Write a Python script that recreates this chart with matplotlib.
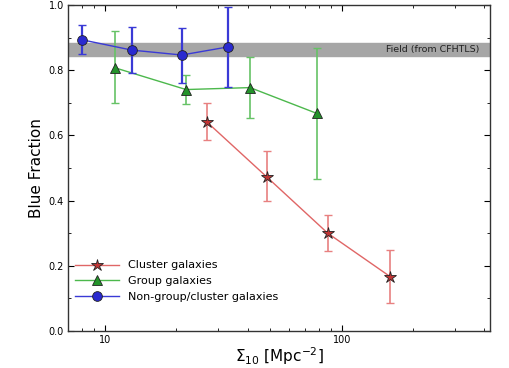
import numpy as np
import matplotlib
matplotlib.use('Agg')
from matplotlib import pyplot as plt
from matplotlib.ticker import FormatStrFormatter, NullFormatter

# cluster galaxies
cl_x = [26.9, 48.2, 87.3, 160.0]
cl_y = [0.642, 0.473, 0.300, 0.167]
cl_lo = [0.586, 0.398, 0.245, 0.085]
cl_hi = [0.700, 0.551, 0.355, 0.248]

# group galaxies
gr_x = [11.0, 22.0, 41.0, 78.3]
gr_y = [0.808, 0.741, 0.747, 0.668]
gr_lo = [0.701, 0.697, 0.655, 0.466]
gr_hi = [0.920, 0.785, 0.841, 0.869]

# non-group/cluster galaxies
ng_x = [7.97, 13.0, 21.1, 33.2]
ng_y = [0.894, 0.862, 0.847, 0.872]
ng_lo = [0.850, 0.792, 0.761, 0.749]
ng_hi = [0.938, 0.933, 0.931, 0.993]

field_lo, field_hi = 0.845, 0.884
field_label = 'Field (from CFHTLS)'


def errs(y, lo, hi):
    y = np.array(y)
    return [y - np.array(lo), np.array(hi) - y]


fig = plt.figure(figsize=(5.09, 3.68), dpi=100)
ax = fig.add_axes([0.134, 0.1005, 0.829, 0.8855])

ax.axhspan(field_lo, field_hi, color='#a6a6a6', zorder=0)
ax.text(0.975, (field_lo + field_hi) / 2, field_label, transform=ax.get_yaxis_transform(),
        ha='right', va='center', fontsize=6.8, color='#222222')

series = [
    (cl_x, cl_y, cl_lo, cl_hi, '#e06666', '#e88080', 1.2, '*', 9, '#c03535', 'Cluster galaxies'),
    (gr_x, gr_y, gr_lo, gr_hi, '#4cb84c', '#66c266', 1.2, '^', 7, '#23932a', 'Group galaxies'),
    (ng_x, ng_y, ng_lo, ng_hi, '#3a3ad6', '#3a3ad6', 1.6, 'o', 7, '#2a2ad0', 'Non-group/cluster galaxies'),
]
for x, y, lo, hi, lc, ec, ew, mk, ms, fc, lab in series:
    ax.errorbar(x, y, yerr=errs(y, lo, hi), fmt='none', ecolor=ec, elinewidth=ew, capsize=3)
    ax.plot(x, y, color=lc, lw=1, marker=mk, ms=ms, mfc=fc, mec='#222222', mew=0.6, label=lab)

ax.set_xscale('log')
ax.set_xlim(7, 423)
ax.set_ylim(0, 1.0)
ax.xaxis.set_major_formatter(FormatStrFormatter('%d'))
ax.xaxis.set_minor_formatter(NullFormatter())
ax.set_yticks(np.arange(0, 1.01, 0.2))
ax.set_yticks(np.arange(0, 1.01, 0.1), minor=True)
ax.tick_params(which='both', direction='in', top=True, right=True, labelsize=7, pad=3)
ax.tick_params(which='major', length=4, width=0.8)
ax.tick_params(which='minor', length=2, width=0.6)
ax.set_ylabel('Blue Fraction', fontsize=11, labelpad=3)
ax.set_xlabel(r'$\Sigma_{10}$ [Mpc$^{-2}$]', fontsize=11, labelpad=0)
for s in ax.spines.values():
    s.set_linewidth(1.0)
    s.set_color('#333333')

ax.legend(loc='lower left', bbox_to_anchor=(0.0, 0.07), frameon=False, fontsize=8,
          handlelength=4, labelspacing=0.5, borderaxespad=0.2, numpoints=1)

fig.savefig('out.png', dpi=100)
